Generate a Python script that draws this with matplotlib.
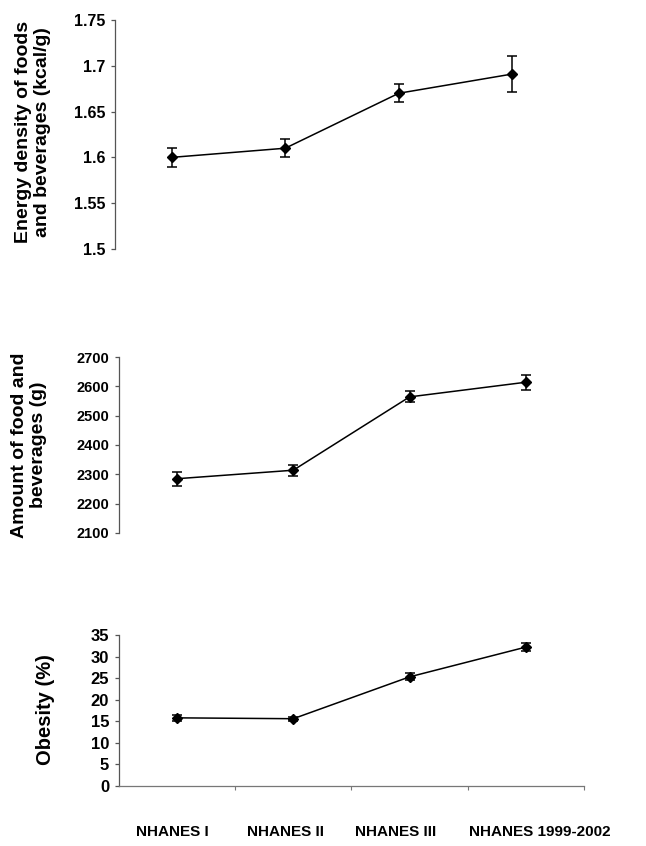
import matplotlib.pyplot as plt
import matplotlib.transforms as mtransforms
import numpy as np

plt.rcParams['font.family'] = ['Liberation Sans', 'DejaVu Sans']
plt.rcParams['font.weight'] = 'bold'

surveys = ["NHANES I", "NHANES II", "NHANES III", "NHANES 1999-2002"]

energy_density = [1.600, 1.610, 1.670, 1.691]
energy_err = [0.010, 0.010, 0.010, 0.020]

food_amount = [2285, 2314, 2564, 2614]
food_err = [24, 19, 19, 25]

obesity = [15.8, 15.6, 25.3, 32.2]
obesity_err = [0.7, 0.5, 0.8, 1.0]

x = np.arange(len(surveys))

fig = plt.figure(figsize=(6.46, 8.46), dpi=100)

ax1 = fig.add_axes([0.178, 0.7057, 0.703, 0.2707])
ax2 = fig.add_axes([0.184, 0.370, 0.720, 0.208])
ax3 = fig.add_axes([0.184, 0.0709, 0.720, 0.1785])

panels = [
    (ax1, energy_density, energy_err, (1.5, 1.75), np.arange(1.5, 1.76, 0.05), 11.5),
    (ax2, food_amount, food_err, (2100, 2700), np.arange(2100, 2701, 100), 10.5),
    (ax3, obesity, obesity_err, (0, 35), np.arange(0, 36, 5), 12),
]

for ax, vals, errs, ylim, yt, fs in panels:
    ax.errorbar(x, vals, yerr=errs, fmt="-D", color="black", ms=5.5, lw=1.1,
                elinewidth=1.1, capsize=3.8, capthick=1.1)
    ax.set_xlim(-0.5, 3.5)
    ax.set_ylim(*ylim)
    ax.set_yticks(yt)
    labels = [f"{v:g}" for v in yt]
    ax.set_yticklabels(labels, fontsize=fs, fontweight="bold")
    for s in ["top", "right"]:
        ax.spines[s].set_visible(False)
    ax.spines["left"].set_color("#555555")
    ax.spines["left"].set_linewidth(0.9)
    ax.tick_params(axis="y", direction="out", length=3, width=0.9,
                   color="#555555", pad=4)

for ax in (ax1, ax2):
    ax.spines["bottom"].set_visible(False)
    ax.set_xticks([])

ax3.spines["bottom"].set_color("#777777")
ax3.spines["bottom"].set_linewidth(0.9)
ax3.set_xticks([0.5, 1.5, 2.5, 3.5])
ax3.set_xticklabels([])
ax3.tick_params(axis="x", which="major", direction="out", length=3,
                width=0.8, color="#777777")
ax3.set_xticks(x, minor=True)
ax3.set_xticklabels(surveys, minor=True, fontsize=11, fontweight="bold")
ax3.tick_params(axis="x", which="minor", length=0, pad=28)

# the category labels in the original are not exactly centred on the points
shifts = [-5, -8, -14, 14]
for lab, dx in zip(ax3.get_xticklabels(minor=True), shifts):
    off = mtransforms.ScaledTranslation(dx / 100, 0, fig.dpi_scale_trans)
    lab.set_transform(lab.get_transform() + off)

fig.text(0.051, 0.844, "Energy density of foods\nand beverages (kcal/g)",
         rotation=90, ha="center", va="center", multialignment="center",
         fontsize=14, fontweight="bold", linespacing=1.15)
fig.text(0.045, 0.474, "Amount of food and\nbeverages (g)",
         rotation=90, ha="center", va="center", multialignment="center",
         fontsize=14, fontweight="bold", linespacing=1.15)
fig.text(0.070, 0.161, "Obesity (%)", rotation=90, ha="center", va="center",
         fontsize=14.5, fontweight="bold")

fig.savefig("out.png", dpi=100)
